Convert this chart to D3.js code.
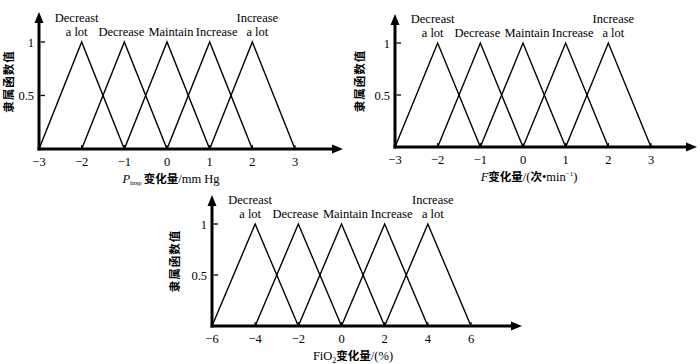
<!DOCTYPE html>
<html><head><meta charset="utf-8">
<script src="https://cdn.jsdelivr.net/npm/d3@7"></script>
<style>
body{margin:0;background:#fff;}
</style></head><body>
<svg id="c" width="700" height="364" font-family="'Liberation Serif', 'DejaVu Serif', serif"></svg>
<script>
// ---- data ----
const setNames = ["Decreast\na lot", "Decrease", "Maintain", "Increase", "Increase\na lot"];
const centersA = [-2, -1, 0, 1, 2];          // P_insp and F
const halfWidthA = 1;
const centersB = [-4, -2, 0, 2, 4];          // FiO2
const halfWidthB = 2;
const ticksA = [-3, -2, -1, 0, 1, 2, 3];
const ticksB = [-6, -4, -2, 0, 2, 4, 6];
const yTicks = [0.5, 1];
const yTitle = "隶属函数值";

const SERIF = "'Liberation Serif', 'DejaVu Serif', serif";
const CJK = "'Noto Sans CJK SC', 'Noto Sans CJK JP', sans-serif";

const svg = d3.select("#c");

function chart(cfg) {
  const x = d3.scaleLinear().domain(cfg.domain).range([cfg.x0, cfg.x1]);
  const y = d3.scaleLinear().domain([0, 1]).range([cfg.y0, cfg.y1]);
  const g = svg.append("g").attr("font-family", SERIF);

  // membership triangles
  const line = d3.line().x(d => x(d[0])).y(d => y(d[1]));
  cfg.centers.forEach(c => {
    g.append("path")
      .attr("d", line([[c - cfg.hw, 0], [c, 1], [c + cfg.hw, 0]]))
      .attr("fill", "none").attr("stroke", "#000").attr("stroke-width", 1.4);
  });

  // small tick marks on the x axis
  cfg.ticks.forEach(t => {
    g.append("line").attr("x1", x(t)).attr("x2", x(t))
      .attr("y1", cfg.y0).attr("y2", cfg.y0 - 4)
      .attr("stroke", "#000").attr("stroke-width", 1.2);
  });

  // axes
  const ax = x(cfg.domain[0]);
  g.append("line").attr("x1", ax - 1.5).attr("x2", cfg.xEnd - 8)
    .attr("y1", cfg.y0).attr("y2", cfg.y0).attr("stroke", "#000").attr("stroke-width", 3);
  g.append("path").attr("d", `M${cfg.xEnd},${cfg.y0} L${cfg.xEnd - 11},${cfg.y0 - 4.5} L${cfg.xEnd - 11},${cfg.y0 + 4.5}Z`)
    .attr("fill", "#000");
  g.append("line").attr("x1", ax).attr("x2", ax)
    .attr("y1", cfg.y0 + 1.5).attr("y2", cfg.yEnd + 8).attr("stroke", "#000").attr("stroke-width", 3);
  g.append("path").attr("d", `M${ax},${cfg.yEnd} L${ax - 4.5},${cfg.yEnd + 11} L${ax + 4.5},${cfg.yEnd + 11}Z`)
    .attr("fill", "#000");

  // y ticks
  yTicks.forEach(t => {
    g.append("line").attr("x1", ax + 1.5).attr("x2", ax + 6)
      .attr("y1", y(t)).attr("y2", y(t)).attr("stroke", "#000").attr("stroke-width", 1.3);
    g.append("text").attr("x", ax - 5).attr("y", y(t) + 4.5)
      .attr("text-anchor", "end").attr("font-size", 12.5).text(t);
  });

  // x tick labels
  cfg.ticks.forEach(t => {
    g.append("text").attr("x", x(t)).attr("y", cfg.y0 + 17)
      .attr("text-anchor", "middle").attr("font-size", 12.5)
      .text(t < 0 ? "\u2212" + Math.abs(t) : String(t));
  });

  // set labels
  cfg.centers.forEach((c, i) => {
    const parts = setNames[i].split("\n");
    const base = y(1) - 6;
    parts.forEach((p, j) => {
      g.append("text")
        .attr("x", x(c) + cfg.labelDx[i])
        .attr("y", base - (parts.length - 1 - j) * 14)
        .attr("text-anchor", "middle").attr("font-size", 12.5).text(p);
    });
  });

  // y title
  g.append("text").attr("font-family", CJK)
    .attr("transform", `translate(${cfg.yTitleX},${(y(0) + y(1)) / 2 - 14}) rotate(-90)`)
    .attr("text-anchor", "middle").attr("font-size", 11.5).attr("font-weight", 700)
    .attr("letter-spacing", 1).text(yTitle);

  // x title
  const t = g.append("text").attr("x", cfg.xTitleX).attr("y", cfg.y0 + 34)
    .attr("text-anchor", "middle").attr("font-size", 12.5);
  cfg.xTitle(t);
}

function cjkSpan(t, s) {
  return t.append("tspan").attr("font-family", CJK).attr("font-size", 11.5).attr("font-weight", 700).text(s);
}

chart({
  domain: [-3, 3], x0: 39, x1: 295, y0: 149, y1: 42, xEnd: 343, yEnd: 12,
  centers: centersA, hw: halfWidthA, ticks: ticksA, yTitleX: 13,
  labelDx: [-5, -3, 4, 7, 5], xTitleX: 171,
  xTitle: t => {
    t.append("tspan").attr("font-style", "italic").text("P");
    t.append("tspan").attr("font-size", 7).attr("dy", 2).text("insp");
    cjkSpan(t, "变化量").attr("dy", -2).attr("dx", 2);
    t.append("tspan").text("/mm Hg");
  }
});

chart({
  domain: [-3, 3], x0: 395, x1: 651, y0: 147, y1: 43, xEnd: 697, yEnd: 14,
  centers: centersA, hw: halfWidthA, ticks: ticksA, yTitleX: 364,
  labelDx: [-5, -3, 4, 7, 5], xTitleX: 529,
  xTitle: t => {
    t.append("tspan").attr("font-style", "italic").text("F");
    cjkSpan(t, "变化量");
    t.append("tspan").text("/(");
    cjkSpan(t, "次");
    t.append("tspan").text("\u2022min");
    t.append("tspan").attr("font-size", 7).attr("dy", -5).text("\u22121");
    t.append("tspan").attr("dy", 5).text(")");
  }
});

chart({
  domain: [-6, 6], x0: 212, x1: 471, y0: 326, y1: 224, xEnd: 522, yEnd: 195,
  centers: centersB, hw: halfWidthB, ticks: ticksB, yTitleX: 179,
  labelDx: [-5, -3, 4, 7, 5], xTitleX: 353,
  xTitle: t => {
    t.append("tspan").text("FiO");
    t.append("tspan").attr("font-size", 8).attr("dy", 3).text("2");
    cjkSpan(t, "变化量").attr("dy", -3);
    t.append("tspan").text("/(%)");
  }
});
</script>
</body></html>
